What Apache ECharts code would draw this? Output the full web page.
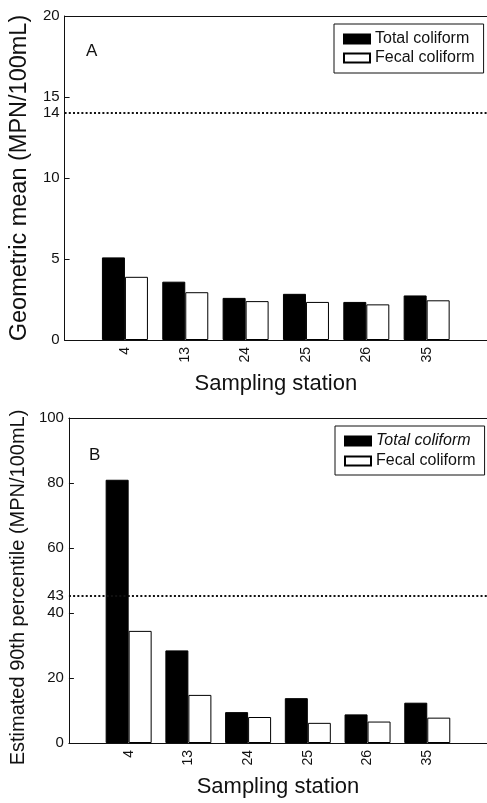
<!DOCTYPE html>
<html>
<head>
<meta charset="utf-8">
<script src="https://cdn.jsdelivr.net/npm/echarts@6/dist/echarts.min.js"></script>
<style>
html, body { margin: 0; padding: 0; background: #fff; }
#chart { width: 487px; height: 803px; }
</style>
</head>
<body>
<div id="chart"></div>
<script>
// sampling stations (x axis)
const stations = ['4', '13', '24', '25', '26', '35'];

// panel A: geometric mean (MPN/100mL)
const totalA = [5.1, 3.6, 2.6, 2.85, 2.35, 2.75];
const fecalA = [3.9, 2.95, 2.4, 2.35, 2.2, 2.45];
const limitA = 14;
const limitLabelA = '14';

// panel B: estimated 90th percentile (MPN/100mL)
const totalB = [81, 28.5, 9.5, 13.8, 8.8, 12.4];
const fecalB = [34.5, 14.8, 8.0, 6.2, 6.6, 7.8];
const limitB = 45.4;
const limitLabelB = '43';

const font = 'Liberation Sans, Arial, sans-serif';
const ink = '#111';

// empty slot at each end of the axis, like the original
const axisCats = [''].concat(stations, ['']);
function pad(arr) {
    return [null].concat(arr, [null]);
}

function bottomAxis(gridIndex) {
    return {
        type: 'category',
        gridIndex: gridIndex,
        data: axisCats,
        boundaryGap: false,
        axisLine: { lineStyle: { color: ink, width: 1 } },
        axisTick: { show: false },
        axisLabel: {
            interval: 0, rotate: 90, margin: 7,
            fontSize: 14, fontFamily: font, color: ink
        },
        name: 'Sampling station',
        nameLocation: 'middle',
        nameGap: 33,
        nameTextStyle: { fontSize: 22, fontFamily: font, color: ink }
    };
}

function topBorder(gridIndex) {
    return {
        type: 'category',
        gridIndex: gridIndex,
        position: 'top',
        data: axisCats,
        boundaryGap: false,
        axisLine: { lineStyle: { color: ink, width: 1 } },
        axisTick: { show: false },
        axisLabel: { show: false }
    };
}

function valueAxis(gridIndex, max, interval, name, nameSize, nameGap, namePad) {
    return {
        type: 'value',
        gridIndex: gridIndex,
        min: 0,
        max: max,
        interval: interval,
        axisLine: { show: true, lineStyle: { color: ink, width: 1 } },
        axisTick: { show: true, inside: true, length: 5, lineStyle: { color: ink } },
        axisLabel: { fontSize: 15, fontFamily: font, color: ink, margin: 5 },
        splitLine: { show: false },
        name: name,
        nameLocation: 'middle',
        nameGap: nameGap,
        nameTextStyle: { fontSize: nameSize, fontFamily: font, color: ink, padding: namePad }
    };
}

function limitLine(value, label) {
    return {
        silent: true,
        symbol: 'none',
        lineStyle: { color: ink, type: [2, 2.2], width: 2 },
        label: {
            position: 'start', formatter: label, distance: 5,
            fontSize: 15, fontFamily: font, color: ink
        },
        data: [{ yAxis: value }]
    };
}

const blackBar = { color: '#000', borderColor: '#000', borderWidth: 1 };
const whiteBar = { color: '#fff', borderColor: '#000', borderWidth: 1 };

const option = {
    animation: false,
    backgroundColor: '#fff',
    title: [
        { text: 'A', left: 81, top: 38, textStyle: { fontSize: 17, fontWeight: 'normal', fontFamily: font, color: ink } },
        { text: 'B', left: 84, top: 442, textStyle: { fontSize: 17, fontWeight: 'normal', fontFamily: font, color: ink } }
    ],
    legend: [
        {
            orient: 'vertical', left: 334, top: 24,
            padding: [7, 9, 7, 9], itemGap: 3,
            itemWidth: 26, itemHeight: 9,
            borderColor: ink, borderWidth: 1,
            icon: 'rect',
            textStyle: { fontSize: 16, fontFamily: font, color: ink },
            data: ['Total coliform', 'Fecal coliform']
        },
        {
            orient: 'vertical', left: 335, top: 426,
            padding: [7, 9, 6, 9], itemGap: 4,
            itemWidth: 26, itemHeight: 9,
            borderColor: ink, borderWidth: 1,
            icon: 'rect',
            textStyle: { fontSize: 16, fontFamily: font, color: ink },
            data: [
                { name: 'Total coliform', textStyle: { fontStyle: 'italic' } },
                'Fecal coliform'
            ]
        }
    ],
    grid: [
        { left: 62, right: -2, top: 16, height: 324 },
        { left: 65, right: -2, top: 418, height: 325 }
    ],
    xAxis: [bottomAxis(0), topBorder(0), bottomAxis(1), topBorder(1)],
    yAxis: [
        valueAxis(0, 20, 5, 'Geometric mean (MPN/100mL)', 23.5, 29, [0, 0, 0, 0]),
        valueAxis(1, 100, 20, 'Estimated 90th percentile (MPN/100mL)', 20, 33, [0, 14, 0, 0])
    ],
    series: [
        {
            name: 'Total coliform', type: 'bar', xAxisIndex: 0, yAxisIndex: 0,
            data: pad(totalA), barWidth: 23, barGap: '0%', itemStyle: blackBar,
            markLine: limitLine(limitA, limitLabelA)
        },
        {
            name: 'Fecal coliform', type: 'bar', xAxisIndex: 0, yAxisIndex: 0,
            data: pad(fecalA), barWidth: 23, barGap: '0%', itemStyle: whiteBar
        },
        {
            name: 'Total coliform', type: 'bar', xAxisIndex: 2, yAxisIndex: 1,
            data: pad(totalB), barWidth: 23, barGap: '0%', itemStyle: blackBar,
            markLine: limitLine(limitB, limitLabelB)
        },
        {
            name: 'Fecal coliform', type: 'bar', xAxisIndex: 2, yAxisIndex: 1,
            data: pad(fecalB), barWidth: 23, barGap: '0%', itemStyle: whiteBar
        }
    ]
};

var myChart = echarts.init(document.getElementById('chart'));
myChart.setOption(option);
</script>
</body>
</html>
